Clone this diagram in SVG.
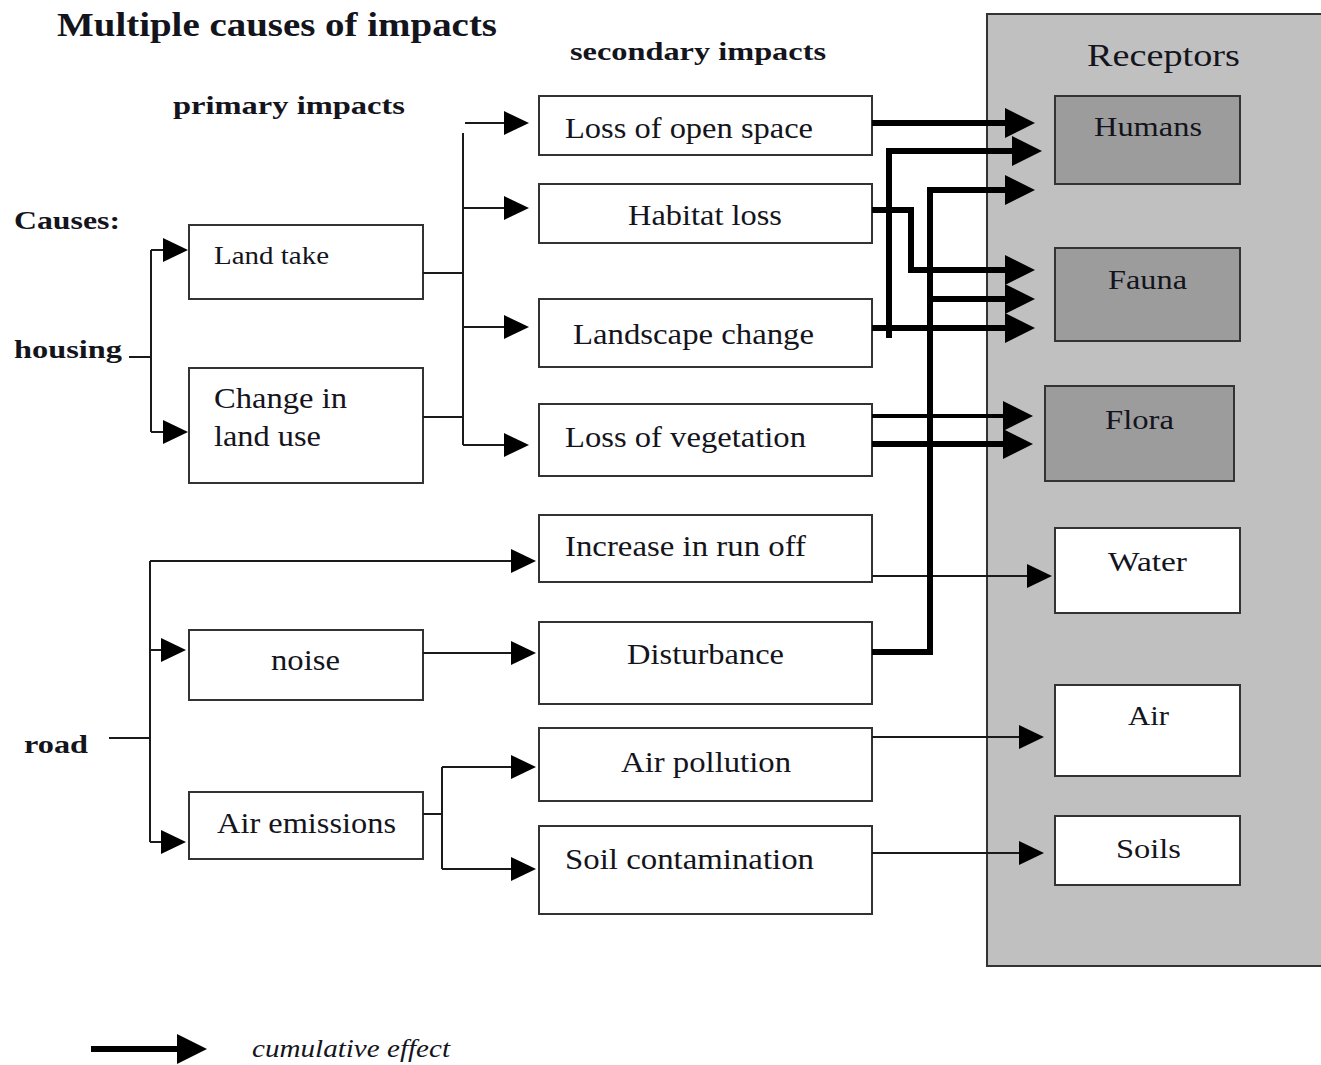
<svg xmlns="http://www.w3.org/2000/svg" width="1321" height="1065" viewBox="0 0 1321 1065">
  <style>
    .t { font-family: "Liberation Serif", "Times New Roman", serif; fill: #14141c; }
    .b { font-weight: bold; }
    .box { fill: #ffffff; stroke: #333333; stroke-width: 2; }
    .rbox { fill: #9c9c9c; stroke: #333333; stroke-width: 2; }
    .thin { fill: none; stroke: #1a1a1a; stroke-width: 2; }
    .thick { fill: none; stroke: #000000; stroke-width: 6; stroke-linejoin: miter; }
    .mid { fill: none; stroke: #000000; stroke-width: 4; }
  </style>
  <defs>
    <marker id="headThin" markerUnits="userSpaceOnUse" markerWidth="26" markerHeight="24" refX="18" refY="12" orient="auto">
      <path d="M0,0 L25,12 L0,24 z" fill="#000"/>
    </marker>
    <marker id="headThick" markerUnits="userSpaceOnUse" markerWidth="31" markerHeight="30" refX="20" refY="15" orient="auto">
      <path d="M0,0 L30,15 L0,30 z" fill="#000"/>
    </marker>
  </defs>

  <rect width="1321" height="1065" fill="#ffffff"/>

  <!-- headings -->
  <text class="t b" x="57" y="36" font-size="33" textLength="440" lengthAdjust="spacingAndGlyphs">Multiple causes of impacts</text>
  <text class="t b" x="570" y="60" font-size="26" textLength="256" lengthAdjust="spacingAndGlyphs">secondary impacts</text>
  <text class="t b" x="173" y="114" font-size="26" textLength="232" lengthAdjust="spacingAndGlyphs">primary impacts</text>
  <text class="t b" x="14" y="229" font-size="25" textLength="106" lengthAdjust="spacingAndGlyphs">Causes:</text>
  <text class="t b" x="14" y="358" font-size="25" textLength="108" lengthAdjust="spacingAndGlyphs">housing</text>
  <text class="t b" x="24" y="753" font-size="25" textLength="64" lengthAdjust="spacingAndGlyphs">road</text>

  <!-- receptors panel -->
  <g id="receptors">
    <rect x="987" y="14" width="345" height="952" fill="#c0c0c0" stroke="#333333" stroke-width="2"/>
    <text class="t" x="1087" y="66" font-size="32" textLength="153" lengthAdjust="spacingAndGlyphs">Receptors</text>
  </g>

  <g id="humans"><rect class="rbox" x="1055" y="96" width="185" height="88"/><text class="t" x="1094" y="136" font-size="28" textLength="108" lengthAdjust="spacingAndGlyphs">Humans</text></g>
  <g id="fauna"><rect class="rbox" x="1055" y="248" width="185" height="93"/><text class="t" x="1108" y="289" font-size="28" textLength="79" lengthAdjust="spacingAndGlyphs">Fauna</text></g>
  <g id="flora"><rect class="rbox" x="1045" y="386" width="189" height="95"/><text class="t" x="1105" y="429" font-size="28" textLength="69" lengthAdjust="spacingAndGlyphs">Flora</text></g>
  <g id="water"><rect class="box" x="1055" y="528" width="185" height="85"/><text class="t" x="1108" y="571" font-size="28" textLength="79" lengthAdjust="spacingAndGlyphs">Water</text></g>
  <g id="air"><rect class="box" x="1055" y="685" width="185" height="91"/><text class="t" x="1128" y="725" font-size="28" textLength="41" lengthAdjust="spacingAndGlyphs">Air</text></g>
  <g id="soils"><rect class="box" x="1055" y="816" width="185" height="69"/><text class="t" x="1116" y="858" font-size="28" textLength="65" lengthAdjust="spacingAndGlyphs">Soils</text></g>

  <!-- primary impacts -->
  <g id="land-take"><rect class="box" x="189" y="225" width="234" height="74"/><text class="t" x="214" y="264" font-size="26" textLength="115" lengthAdjust="spacingAndGlyphs">Land take</text></g>
  <g id="change-land-use"><rect class="box" x="189" y="368" width="234" height="115"/><text class="t" x="214" y="408" font-size="29" textLength="133" lengthAdjust="spacingAndGlyphs">Change in</text><text class="t" x="214" y="446" font-size="29" textLength="107" lengthAdjust="spacingAndGlyphs">land use</text></g>
  <g id="noise"><rect class="box" x="189" y="630" width="234" height="70"/><text class="t" x="271" y="670" font-size="29" textLength="69" lengthAdjust="spacingAndGlyphs">noise</text></g>
  <g id="air-emissions"><rect class="box" x="189" y="792" width="234" height="67"/><text class="t" x="217" y="833" font-size="29" textLength="179" lengthAdjust="spacingAndGlyphs">Air emissions</text></g>

  <!-- secondary impacts -->
  <g id="loss-open-space"><rect class="box" x="539" y="96" width="333" height="59"/><text class="t" x="565" y="138" font-size="29" textLength="248" lengthAdjust="spacingAndGlyphs">Loss of open space</text></g>
  <g id="habitat-loss"><rect class="box" x="539" y="184" width="333" height="59"/><text class="t" x="628" y="225" font-size="29" textLength="154" lengthAdjust="spacingAndGlyphs">Habitat loss</text></g>
  <g id="landscape-change"><rect class="box" x="539" y="299" width="333" height="68"/><text class="t" x="573" y="344" font-size="29" textLength="241" lengthAdjust="spacingAndGlyphs">Landscape change</text></g>
  <g id="loss-vegetation"><rect class="box" x="539" y="404" width="333" height="72"/><text class="t" x="565" y="447" font-size="29" textLength="241" lengthAdjust="spacingAndGlyphs">Loss of vegetation</text></g>
  <g id="run-off"><rect class="box" x="539" y="515" width="333" height="67"/><text class="t" x="565" y="556" font-size="29" textLength="241" lengthAdjust="spacingAndGlyphs">Increase in run off</text></g>
  <g id="disturbance"><rect class="box" x="539" y="622" width="333" height="82"/><text class="t" x="627" y="664" font-size="29" textLength="157" lengthAdjust="spacingAndGlyphs">Disturbance</text></g>
  <g id="air-pollution"><rect class="box" x="539" y="728" width="333" height="73"/><text class="t" x="621" y="772" font-size="29" textLength="170" lengthAdjust="spacingAndGlyphs">Air pollution</text></g>
  <g id="soil-contamination"><rect class="box" x="539" y="826" width="333" height="88"/><text class="t" x="565" y="869" font-size="29" textLength="249" lengthAdjust="spacingAndGlyphs">Soil contamination</text></g>

  <g id="connectors">
    <!-- housing -->
    <path class="thin" d="M129,357 H151 M151,250 V432"/>
    <path class="thin" d="M151,250 H181" marker-end="url(#headThin)"/>
    <path class="thin" d="M151,432 H181" marker-end="url(#headThin)"/>
    <!-- primary to secondary (housing branch) -->
    <path class="thin" d="M423,273 H463 M423,417 H463 M463,133 V445"/>
    <path class="thin" d="M465,123 H522" marker-end="url(#headThin)"/>
    <path class="thin" d="M463,208 H522" marker-end="url(#headThin)"/>
    <path class="thin" d="M463,327 H522" marker-end="url(#headThin)"/>
    <path class="thin" d="M463,445 H522" marker-end="url(#headThin)"/>
    <!-- road -->
    <path class="thin" d="M109,738 H150 M150,561 V842"/>
    <path class="thin" d="M150,561 H529" marker-end="url(#headThin)"/>
    <path class="thin" d="M150,650 H179" marker-end="url(#headThin)"/>
    <path class="thin" d="M150,842 H179" marker-end="url(#headThin)"/>
    <path class="thin" d="M423,653 H529" marker-end="url(#headThin)"/>
    <path class="thin" d="M423,814 H442 M442,767 V869"/>
    <path class="thin" d="M442,767 H529" marker-end="url(#headThin)"/>
    <path class="thin" d="M442,869 H529" marker-end="url(#headThin)"/>
    <!-- secondary to receptors (single effects) -->
    <path class="thin" d="M872,576 H1045" marker-end="url(#headThin)"/>
    <path class="thin" d="M872,737 H1037" marker-end="url(#headThin)"/>
    <path class="thin" d="M872,853 H1037" marker-end="url(#headThin)"/>
    <!-- cumulative effects -->
    <path class="thick" d="M872,123 H1025" marker-end="url(#headThick)"/>
    <path class="thick" d="M889,338 V151 H1032" marker-end="url(#headThick)"/>
    <path class="thick" d="M872,210 H911 V270 H1025" marker-end="url(#headThick)"/>
    <path class="thick" d="M872,652 H930 V190 H1025" marker-end="url(#headThick)"/>
    <path class="thick" d="M930,299 H1025" marker-end="url(#headThick)"/>
    <path class="thick" d="M872,328 H1025" marker-end="url(#headThick)"/>
    <path class="mid" d="M872,416 H1023" marker-end="url(#headThick)"/>
    <path class="thick" d="M872,444 H1023" marker-end="url(#headThick)"/>
  </g>

  <!-- legend -->
  <g id="legend">
    <path class="thick" d="M91,1049 H197" marker-end="url(#headThick)"/>
    <text class="t" x="252" y="1057" font-size="25" font-style="italic" textLength="198" lengthAdjust="spacingAndGlyphs">cumulative effect</text>
  </g>
</svg>
